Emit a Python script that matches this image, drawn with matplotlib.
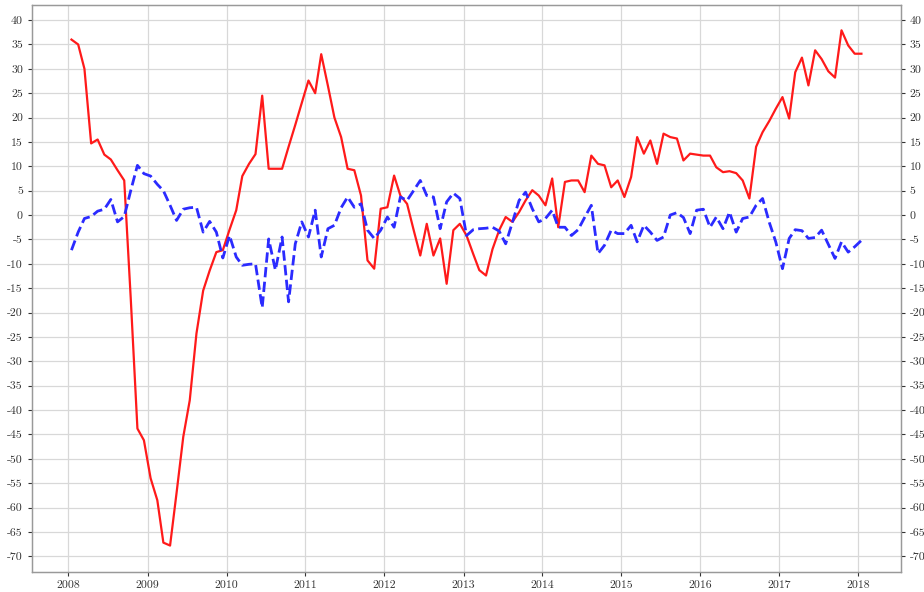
import numpy as np
import pandas as pd
import matplotlib
matplotlib.use("Agg")
import matplotlib.pyplot as plt
import matplotlib.dates as mdates

plt.rcParams['font.family'] = ['cmr10', 'DejaVu Serif']
plt.rcParams['axes.unicode_minus'] = False

# monthly dates, Jan 2008 .. Jan 2018
dates = pd.date_range('2008-01-01', '2018-01-01', freq='MS') + pd.Timedelta(days=14)

red_vals = [
    36, 35, 30, 14.7, 15.5, 12.4, 11.4, 9.2, 7.1, -17, -43.8, -46.2,
    -54, -58.5, -67.2, -67.8, -57, -45.5, -38, -24.3, -15.5, -11.4, -7.6, -7.2,
    -3, 1, 8, 10.5, 12.5, 24.5, 9.5, 9.5, 9.5, 14, 18.5, 23,
    27.6, 25, 33, 26.5, 20, 16, 9.5, 9.2, 4.0, -9.3, -11, 1.3,
    1.6, 8.1, 4.0, 2.3, -3, -8.3, -1.8, -8.3, -4.8, -14.1, -3.1, -1.8,
    -4.2, -8, -11.3, -12.4, -7, -3.1, -0.4, -1.4, 0.6, 3, 5.1, 4.0,
    2.0, 7.5, -2.5, 6.8, 7.1, 7.1, 4.7, 12.2, 10.5, 10.2, 5.7, 7.1,
    3.7, 7.8, 16, 12.6, 15.3, 10.5, 16.7, 16, 15.7, 11.2, 12.6, 12.4,
    12.2, 12.2, 9.8, 8.8, 9, 8.6, 7.1, 3.4, 14, 17, 19.3, 21.8,
    24.2, 19.8, 29.3, 32.3, 26.6, 33.8, 32, 29.5, 28.2, 37.9, 34.8, 33.1,
    33.1,
]

blue_vals = [
    -7.2, -3.5, -0.7, -0.3, 0.8, 1.2, 3.2, -1.4, -0.3, 5, 10.2, 8.5,
    8.0, 6.3, 5, 2, -1.1, 1.2, 1.5, 1.6, -3.5, -1.3, -3.5, -8.8,
    -4.2, -8.6, -10.3, -10.1, -10, -19, -4.9, -11.3, -4.5, -17.8, -5.9, -1.4,
    -4.5, 1.0, -8.6, -2.8, -2.1, 1.5, 3.7, 1.6, 2.3, -3.1, -4.8, -3.1,
    -0.4, -2.5, 3.7, 3.0, 5, 7.1, 4.0, 3.7, -2.8, 2.7, 4.5, 3.4,
    -4.2, -3, -2.8, -2.7, -2.5, -3.3, -5.9, -1.5, 3.0, 4.7, 1.3, -1.4,
    -0.7, 1.0, -2.5, -2.5, -4.2, -3, -0.5, 2.0, -7.9, -6.2, -3.1, -3.8,
    -3.8, -2.1, -5.5, -2.1, -3.5, -5.2, -4.5, 0, 0.5, -0.5, -3.8, 1.0,
    1.2, -2.5, -0.4, -2.8, 0.6, -3.5, -0.7, -0.4, 2.0, 3.4, -1.5, -5.5,
    -11, -4.8, -3, -3.2, -4.8, -4.6, -3.1, -6, -8.9, -5.5, -7.6, -6.5,
    -5.2,
]

yticks = np.arange(-70, 41, 5)

fig = plt.figure(figsize=(9.24, 5.92), dpi=100)
ax = fig.add_axes([0.0346, 0.034, 0.9404, 0.9576])
ax.plot(dates, red_vals, color='#ff1a1a', lw=1.6)
ax.grid(True, color='#d8d8d8', lw=0.9)
ax.set_axisbelow(True)

# blue series on the right-hand twin axis, same scale
ax2 = ax.twinx()
ax2.plot(dates, blue_vals, color='#2b2bff', lw=2.0, ls='--')

for a in (ax, ax2):
    a.set_ylim(-73.2, 43.1)
    a.set_yticks(yticks)
    a.tick_params(labelsize=8.5, colors='#333333', length=3, width=0.8)
    for s in a.spines.values():
        s.set_color('#999999')
        s.set_linewidth(0.9)

ax.xaxis.set_major_locator(mdates.YearLocator())
ax.xaxis.set_major_formatter(mdates.DateFormatter('%Y'))

fig.savefig('out.png', dpi=100)
